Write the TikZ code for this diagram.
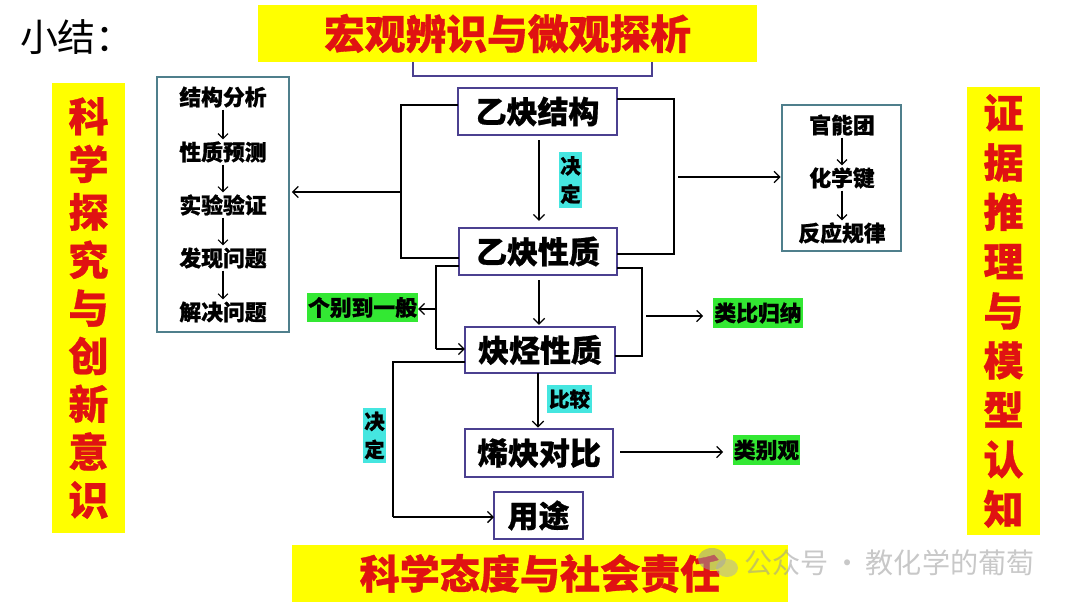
\documentclass[tikz,border=0pt]{standalone}
\usepackage{fontspec}
\setmainfont{Noto Sans CJK SC}
\newfontfamily\heavy{Noto Sans CJK SC}[BoldFeatures={FakeBold=0.8}]
\usetikzlibrary{arrows.meta}
\definecolor{ttl}{HTML}{E01212}
\definecolor{ylw}{HTML}{FFFF00}
\definecolor{grn}{HTML}{33E833}
\definecolor{cyn}{HTML}{45E6E0}
\definecolor{pbord}{HTML}{4B4090}
\definecolor{tbord}{HTML}{4F7F8C}
\definecolor{wm}{HTML}{9A9A9A}
\begin{document}
\begin{tikzpicture}[x=0.025cm,y=-0.025cm,
  every node/.style={inner sep=0pt, outer sep=0pt},
  conn/.style={line width=0.9pt},
  arr/.style={conn, -{Straight Barb[length=4pt,width=8pt]}},
  smallarr/.style={line width=0.8pt, -{Straight Barb[length=3.5pt,width=7pt]}},
  mainbox/.style={draw=pbord, line width=1.8pt, fill=white, font=\fontsize{22}{26}\selectfont\heavy\bfseries},
  sidebox/.style={draw=tbord, line width=1.6pt, fill=white},
  item/.style={font=\fontsize{15.5}{18}\selectfont\heavy\bfseries},
  yband/.style={fill=ylw, text=ttl, font=\fontsize{28.5}{34}\selectfont\heavy\bfseries, align=center},
  glabel/.style={fill=grn, font=\fontsize{15.5}{18}\selectfont\heavy\bfseries},
  clabel/.style={fill=cyn, font=\fontsize{14.5}{20}\selectfont\heavy\bfseries, align=center}
]
\useasboundingbox (0,0) rectangle (1080,608);

% heading
\node[anchor=west, font=\fontsize{27}{30}\selectfont] (xj) at (20,37) {小结：};

% partly hidden box behind the title
\node[draw=pbord, line width=1.8pt, fill=white, minimum width=5.975cm, minimum height=0.95cm] (hid) at (532.5,57) {};

% yellow bands
\node[yband, minimum width=12.475cm, minimum height=1.425cm, font=\fontsize{29}{34}\selectfont\heavy\bfseries] (top) at (507.5,33.5) {宏观辨识与微观探析};
\node[yband, minimum width=1.825cm, minimum height=11.25cm, font=\fontsize{28.5}{34.1}\selectfont\heavy\bfseries] (left) at (88.5,308) {科\\学\\探\\究\\与\\创\\新\\意\\识};
\node[yband, minimum width=1.825cm, minimum height=11.2cm, font=\fontsize{28.5}{35.2}\selectfont\heavy\bfseries] (right) at (1003.5,311) {证\\据\\推\\理\\与\\模\\型\\认\\知};
\node[yband, minimum width=12.4cm, minimum height=1.425cm] (bot) at (540,573.5) {科学态度与社会责任};

% main boxes
\node[mainbox, minimum width=3.975cm, minimum height=1.175cm] (j1) at (537.5,111.5) {乙炔结构};
\node[mainbox, minimum width=3.95cm, minimum height=1.175cm] (j2) at (538,251.5) {乙炔性质};
\node[mainbox, minimum width=3.75cm, minimum height=1.15cm] (j3) at (540,350) {炔烃性质};
\node[mainbox, minimum width=3.7cm, minimum height=1.2cm] (j4) at (539,453) {烯炔对比};
\node[mainbox, minimum width=2.225cm, minimum height=1.175cm] (j5) at (538.5,515.5) {用途};

% left process box
\node[sidebox, minimum width=3.3cm, minimum height=6.375cm] (lbox) at (223,204.5) {};
\node[item] (l1) at (223,97) {结构分析};
\node[item] (l2) at (223,152) {性质预测};
\node[item] (l3) at (223,205) {实验验证};
\node[item] (l4) at (223,258) {发现问题};
\node[item] (l5) at (223,312) {解决问题};
\foreach \a/\b in {l1/l2,l2/l3,l3/l4,l4/l5}
  \draw[smallarr, shorten <=1.5pt, shorten >=1.5pt] (\a.south) -- (\b.north);

% right box
\node[sidebox, minimum width=2.975cm, minimum height=3.65cm] (rbox) at (841.5,178) {};
\node[item] (r1) at (842,125) {官能团};
\node[item] (r2) at (842,178) {化学键};
\node[item] (r3) at (842,233) {反应规律};
\foreach \a/\b in {r1/r2,r2/r3}
  \draw[smallarr, shorten <=1.5pt, shorten >=1.5pt] (\a.south) -- (\b.north);

% labels
\node[glabel, minimum width=2.775cm, minimum height=0.725cm] (g1) at (362.5,307.5) {个别到一般};
\node[glabel, minimum width=2.25cm, minimum height=0.75cm] (g2) at (758,313) {类比归纳};
\node[glabel, minimum width=1.675cm, minimum height=0.75cm] (g3) at (766.5,450) {类别观};
\node[clabel, minimum width=0.575cm, minimum height=1.4cm] (c1) at (570.5,180) {决\\定};
\node[clabel, minimum width=1.125cm, minimum height=0.7cm] (c2) at (569.5,399) {比较};
\node[clabel, minimum width=0.575cm, minimum height=1.375cm] (c3) at (374.5,435.5) {决\\定};

% connectors
\coordinate (A1) at (401,105);
\coordinate (A2) at (401,258);
\coordinate (A3) at (401,192);
\draw[conn] (j1.west |- A1) -- (A1) -- (A2) -- (j2.west |- A2);
\draw[arr, shorten >=2pt] (A3) -- (lbox.east |- A3);

\coordinate (B1) at (674,99);
\coordinate (B2) at (674,254);
\coordinate (B3) at (678,177);
\draw[conn] (j1.east |- B1) -- (B1) -- (B2) -- (j2.east |- B2);
\draw[arr, shorten >=1pt] (B3) -- (rbox.west |- B3);

\coordinate (J1) at (539,140);
\draw[arr, shorten >=5pt] (J1) -- (J1 |- j2.north);
\coordinate (J2) at (539,280);
\draw[arr, shorten >=1.5pt] (J2) -- (J2 |- j3.north);

\coordinate (C1) at (436,266);
\coordinate (C2) at (436,349);
\coordinate (C3) at (436,309);
\draw[conn] (j2.west |- C1) -- (C1) -- (C2);
\draw[arr] (C2) -- (j3.west |- C2);
\draw[arr] (C3) -- (g1.east |- C3);

\coordinate (D1) at (642,268);
\coordinate (D2) at (642,356);
\coordinate (D3) at (646,316);
\draw[conn] (j2.east |- D1) -- (D1) -- (D2) -- (j3.east |- D2);
\draw[arr, shorten >=7pt] (D3) -- (g2.west |- D3);

\coordinate (K1) at (538,373);
\draw[arr, shorten >=1pt] (K1) -- (K1 |- j4.north);

\coordinate (E1) at (393,362);
\coordinate (E2) at (393,517);
\draw[conn] (j3.west |- E1) -- (E1) -- (E2);
\draw[arr] (E2) -- (j5.west |- E2);

\coordinate (F1) at (620,452);
\draw[arr, shorten >=7pt] (F1) -- (g3.west |- F1);

% watermark
\begin{scope}[opacity=0.55]
  \fill[wm] (712,559) ellipse (14 and 11);
  \fill[wm!80] (727,568) ellipse (11 and 9);
  \node[text=wm, anchor=west, font=\fontsize{20}{24}\selectfont] (wmk) at (744,563) {公众号\,·\,教化学的葡萄};
\end{scope}
\end{tikzpicture}
\end{document}
